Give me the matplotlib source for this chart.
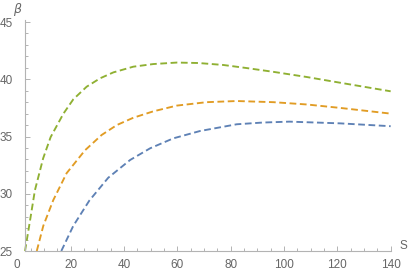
import matplotlib
matplotlib.use("Agg")
from matplotlib import pyplot as plt
from matplotlib.ticker import MultipleLocator

# values
green_s = [2.9, 4.8, 6.6, 9.7, 12.5, 17.3, 21.0, 26.0, 31.0, 36.0, 43.5, 51.0, 59.8, 68.0, 77.2, 86.0, 96.0, 108.5, 121.0, 140.0]
green_b = [25.0, 27.7, 30.3, 33.1, 34.95, 37.0, 38.25, 39.35, 40.08, 40.6, 41.1, 41.33, 41.46, 41.42, 41.25, 40.98, 40.65, 40.2, 39.7, 38.95]

orange_s = [7.3, 9.75, 13.5, 18.5, 25.4, 31.6, 37.3, 43.5, 51.0, 59.8, 71.0, 82.3, 96.0, 108.5, 121.0, 140.0]
orange_b = [25.0, 27.2, 29.45, 31.8, 33.8, 35.13, 36.0, 36.64, 37.2, 37.7, 38.0, 38.1, 38.0, 37.8, 37.5, 37.0]

blue_s = [16.5, 21.0, 27.0, 34.1, 42.3, 49.8, 58.5, 68.5, 82.3, 92.0, 102.0, 121.0, 140.0]
blue_b = [25.0, 27.2, 29.4, 31.4, 32.95, 33.97, 34.84, 35.48, 36.07, 36.22, 36.3, 36.15, 35.9]

x_ticks = [0, 20, 40, 60, 80, 100, 120, 140]
y_ticks = [25, 30, 35, 40, 45]

W, H = 409, 271
fig = plt.figure(figsize=(W / 100, H / 100), dpi=100)
ax = fig.add_axes([17.3 / W, 20 / H, 378.7 / W, 232.4 / H])

dash = (0, (3.6, 1.9))
ax.plot(blue_s, blue_b, color="#5E81B5", lw=1.35, ls=dash)
ax.plot(orange_s, orange_b, color="#E19C24", lw=1.35, ls=dash)
ax.plot(green_s, green_b, color="#8FB032", lw=1.35, ls=dash)

ax.set_xlim(0, 142)
ax.set_ylim(25, 45.3)

axis_col = "#b3b3b3"
for side in ["top", "right"]:
    ax.spines[side].set_visible(False)
ax.spines["left"].set_position(("data", 2.9))
ax.spines["left"].set_bounds(25, 45.2)
ax.spines["bottom"].set_bounds(2.9, 140)
for side in ["left", "bottom"]:
    ax.spines[side].set_color(axis_col)
    ax.spines[side].set_linewidth(0.8)

ax.set_xticks(x_ticks)
ax.set_yticks(y_ticks)
ax.xaxis.set_minor_locator(MultipleLocator(5))
ax.yaxis.set_minor_locator(MultipleLocator(1))
ax.tick_params(which="both", direction="in", color=axis_col, width=0.7,
               labelcolor="#666666", labelsize=8.5)
ax.tick_params(which="major", length=3.6)
ax.tick_params(which="minor", length=2.2)
ax.tick_params(axis="x", which="major", pad=6)
ax.tick_params(axis="y", which="major", pad=9)
ax.xaxis.get_major_ticks()[0].tick1line.set_visible(False)
ax.xaxis.get_minor_ticks()[0].tick1line.set_visible(False)
for lab in ax.get_xticklabels() + ax.get_yticklabels():
    lab.set_family("Liberation Sans")

fig.text(17 / W, 1 - 9 / H, "β", style="italic", color="#666666",
         fontsize=9, ha="center", va="center", family="DejaVu Sans")
fig.text(399 / W, 1 - 246 / H, "S", color="#666666", fontsize=8.5,
         ha="left", va="center", family="Liberation Sans")

fig.savefig("out.png", dpi=100)
